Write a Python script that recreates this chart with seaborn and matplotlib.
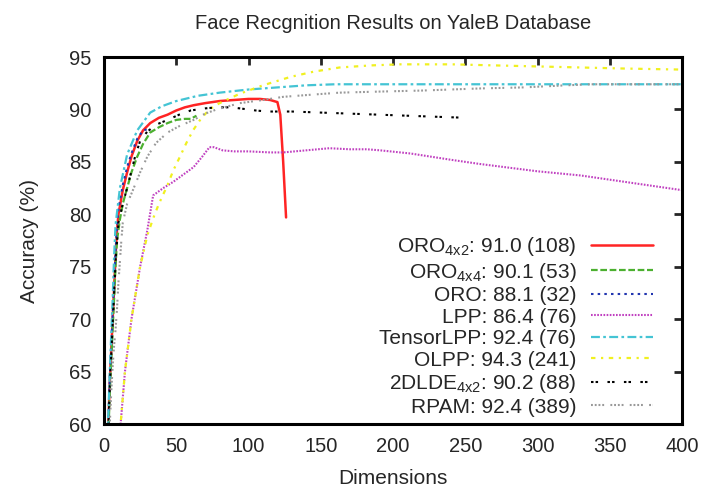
import matplotlib
matplotlib.use("Agg")
import matplotlib.pyplot as plt
import seaborn as sns
import numpy as np

# ---------------- data ----------------
oro42_dim = [1, 2, 3, 4, 5, 6, 7, 8, 9, 10, 13, 16, 19, 23, 27, 32, 38, 44, 50, 56, 62, 70, 80, 90, 100, 108, 115, 120, 122, 124, 126]
oro42_acc = [50, 56, 60, 64, 67, 70, 73, 76, 78.5, 80, 82.3, 84, 85.5, 87, 88, 88.7, 89.2, 89.5, 89.9, 90.2, 90.4, 90.6, 90.8, 90.9, 91.0, 91.0, 90.9, 90.7, 89.5, 85, 79.7]

oro44_dim = [1, 2, 3, 4, 5, 6, 7, 8, 9, 11, 13, 16, 19, 23, 27, 32, 38, 44, 50, 56, 60, 64]
oro44_acc = [49, 55, 59, 63, 66, 69, 72, 75, 77.5, 79.5, 81, 82.5, 84, 85.5, 86.7, 87.8, 88.3, 88.7, 89.0, 89.1, 89.1, 89.4]

oro_dim = [1, 2, 3, 4, 5, 6, 7, 8, 9, 10, 13, 16, 19, 23, 27, 30]
oro_acc = [50, 56, 60, 64.5, 67.5, 70.5, 73.5, 76.5, 79, 80.5, 82.8, 84.5, 85.8, 87.2, 88.0, 88.1]

lpp_dim = [10, 11.5, 14.5, 19, 25, 30, 34, 41, 48, 55, 62, 68, 73, 76, 82, 90, 100, 115, 124, 140, 156, 170, 182, 191, 212, 240, 260, 300, 330, 360, 400]
lpp_acc = [57, 60, 65, 70, 75, 78.5, 81.8, 82.5, 83.1, 83.8, 84.5, 85.5, 86.4, 86.4, 86.1, 86.0, 86.0, 85.9, 85.9, 86.1, 86.3, 86.2, 86.2, 86.1, 85.8, 85.2, 84.8, 84.1, 83.7, 83.1, 82.3]

tlpp_dim = [1, 2, 3, 4, 5, 6, 7, 8, 11, 16, 23, 32, 40, 50, 65, 80, 100, 120, 140, 160, 200, 250, 300, 350, 400]
tlpp_acc = [51, 57, 61, 65, 68.5, 72, 76, 79, 82.5, 85.7, 88.0, 89.7, 90.3, 90.8, 91.3, 91.6, 91.9, 92.1, 92.3, 92.4, 92.4, 92.4, 92.4, 92.4, 92.4]

olpp_dim = [10, 11.5, 14.5, 19, 25, 30, 34, 38, 44, 48, 52.6, 57, 61.6, 67, 73, 80, 94, 110, 129, 145, 163, 185, 205, 241, 270, 300, 330, 360, 400]
olpp_acc = [57, 60, 65, 70, 75, 78, 79.6, 81, 82.8, 84.2, 85.5, 86.8, 88.0, 89.1, 90.0, 90.6, 91.5, 92.3, 93.1, 93.6, 94.0, 94.2, 94.3, 94.3, 94.2, 94.1, 94.0, 93.9, 93.8]

lde_dim = [1, 2, 3, 4, 5, 6, 7, 8, 10, 13, 16, 21.5, 25, 30, 37, 44, 52, 60, 70, 78, 88, 94, 105, 113, 130, 150, 170, 190, 210, 230, 251]
lde_acc = [49, 55, 59.5, 63.5, 66.5, 69.5, 72.5, 75.5, 79.2, 81, 82.5, 85.5, 87.0, 87.9, 88.6, 89.0, 89.5, 89.9, 90.1, 90.2, 90.2, 90.1, 89.9, 89.8, 89.8, 89.7, 89.6, 89.5, 89.4, 89.3, 89.2]

rpam_dim = [2, 3, 4, 5, 6, 7, 8, 9, 10, 11, 12, 13, 16, 20, 25, 30, 36, 44, 52, 62, 70, 78, 94, 110, 124, 143, 163, 190, 220, 260, 290, 320, 337, 370, 400]
rpam_acc = [54, 57, 60, 63, 65.5, 67.5, 69, 71, 73.5, 75.5, 77.5, 79.2, 81, 82.3, 84, 85.5, 86.8, 87.8, 88.4, 89.0, 89.6, 90.0, 90.6, 90.9, 91.2, 91.4, 91.6, 91.7, 91.8, 92.0, 92.1, 92.3, 92.4, 92.4, 92.4]

labels = [
    r"ORO$\mathregular{_{4x2}}$: 91.0 (108)",
    r"ORO$\mathregular{_{4x4}}$: 90.1 (53)",
    "ORO: 88.1 (32)",
    "LPP: 86.4 (76)",
    "TensorLPP: 92.4 (76)",
    "OLPP: 94.3 (241)",
    r"2DLDE$\mathregular{_{4x2}}$: 90.2 (88)",
    "RPAM: 92.4 (389)",
]
x_ticks = [0, 50, 100, 150, 200, 250, 300, 350, 400]
y_ticks = [60, 65, 70, 75, 80, 85, 90, 95]

# ---------------- style ----------------
sns.set_style("white")
plt.rcParams["font.family"] = ["Liberation Sans", "DejaVu Sans"]
plt.rcParams["mathtext.fontset"] = "custom"
plt.rcParams["mathtext.rm"] = "Liberation Sans"

series = [
    (oro42_dim, oro42_acc, "#ff2424", 1.8, None),
    (oro44_dim, oro44_acc, "#4cb030", 1.6, (3.0, 1.2)),
    (oro_dim, oro_acc, "#2236b0", 1.5, (1.2, 2.0)),
    (lpp_dim, lpp_acc, "#c040c0", 1.5, (0.8, 0.7)),
    (tlpp_dim, tlpp_acc, "#44c4d4", 1.6, (4.0, 1.5, 1.2, 1.5)),
    (olpp_dim, olpp_acc, "#f0f020", 1.6, (2.0, 2.5, 1.0, 2.5)),
    (lde_dim, lde_acc, "#000000", 1.5, (1.2, 1.0, 1.2, 4.5)),
    (rpam_dim, rpam_acc, "#999999", 1.5, (0.9, 0.9, 0.9, 0.9, 0.9, 0.9, 0.9, 3.0)),
]

fig = plt.figure(figsize=(7.04, 4.90), dpi=100)
ax = fig.add_axes([104 / 704, 1 - 424 / 490, (682 - 104) / 704, (424 - 57) / 490])

for (xd, yd, col, lw, dash), lab in zip(series, labels):
    sns.lineplot(x=xd, y=yd, ax=ax, color=col, linewidth=lw, label=lab, sort=False, estimator=None)
    ln = ax.lines[-1]
    if dash is not None:
        ln.set_dashes(dash)

ax.set_xlim(0, 400)
ax.set_ylim(60, 95)
ax.set_xticks(x_ticks)
ax.set_yticks(y_ticks)
ax.tick_params(direction="in", length=6, width=2, top=True, right=True, labelsize=14.5, pad=9)
for s in ax.spines.values():
    s.set_linewidth(2.2)
    s.set_color("black")

ax.set_title("Face Recgnition Results on YaleB Database", fontsize=14.5, pad=20)
ax.set_xlabel("Dimensions", fontsize=15, labelpad=10)
ax.set_ylabel("Accuracy (%)", fontsize=15, labelpad=22)

h, l = ax.get_legend_handles_labels()
leg = ax.legend(h, l, loc="lower right", bbox_to_anchor=(0.963, 0.0), frameon=False,
                markerfirst=False, alignment="right", fontsize=15, handlelength=3.0,
                handletextpad=0.7, labelspacing=0.12, borderaxespad=0.15, borderpad=0.2)

fig.savefig("out.png", dpi=100)
